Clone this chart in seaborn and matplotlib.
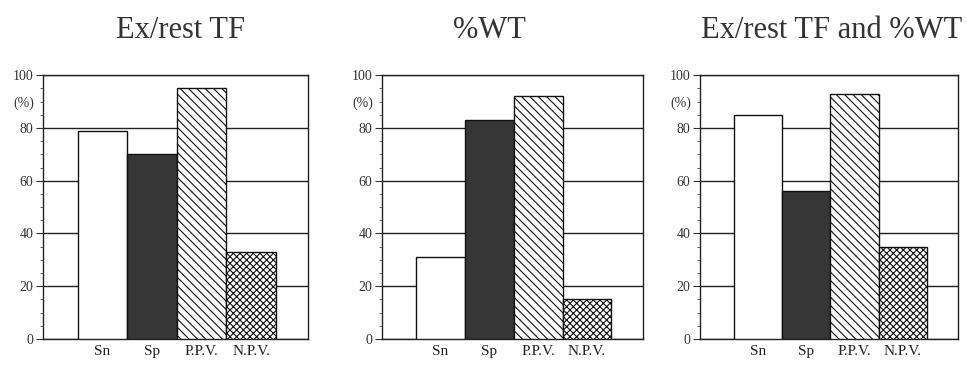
import numpy as np
import pandas as pd
import matplotlib
matplotlib.use("Agg")
import matplotlib.pyplot as plt
import seaborn as sns
from matplotlib.ticker import MultipleLocator
import matplotlib.transforms as mtransforms

# ---------------------------------------------------------------------------
# Data
# ---------------------------------------------------------------------------
categories = ["Sn", "Sp", "P.P.V.", "N.P.V."]
titles = ["Ex/rest TF", "%WT", "Ex/rest TF and %WT"]
exrest_tf = [79, 70, 95, 33]
pct_wt = [31, 83, 92, 15]
exrest_tf_and_wt = [85, 56, 93, 35]
panel_values = [exrest_tf, pct_wt, exrest_tf_and_wt]

bar_colors = {"Sn": "white", "Sp": "#363636", "P.P.V.": "white", "N.P.V.": "white"}
bar_hatches = {"Sn": "", "Sp": "", "P.P.V.": "\\\\\\\\", "N.P.V.": "xxxxx"}

sns.set_theme(style="white")
plt.rcParams["font.family"] = ["Liberation Serif", "DejaVu Serif"]
plt.rcParams["hatch.linewidth"] = 0.8
plt.rcParams["hatch.color"] = "#222222"

fig = plt.figure(figsize=(9.67, 3.70), dpi=100)
axes_pos = [
    (0.0445, 0.0838, 0.274, 0.713),
    (0.395, 0.0838, 0.270, 0.713),
    (0.724, 0.0838, 0.267, 0.713),
]
# title centres, in axes fraction, as placed in the original
title_x = [0.517, 0.41, 0.51]

for pos, title, tx, values in zip(axes_pos, titles, title_x, panel_values):
    ax = fig.add_axes(pos)
    df = pd.DataFrame({"cat": categories, "val": values})
    sns.barplot(data=df, x="cat", y="val", hue="cat", palette=bar_colors,
                order=categories, hue_order=categories, width=1.0,
                edgecolor="#111111", linewidth=1.0, legend=False, ax=ax,
                saturation=1)
    for patch, cat in zip(ax.patches, categories):
        patch.set_hatch(bar_hatches[cat])
        patch.set_zorder(3)

    ax.set_ylim(0, 100)
    ax.set_xlim(-1.2, 4.15)
    ax.yaxis.set_major_locator(MultipleLocator(20))
    ax.yaxis.set_minor_locator(MultipleLocator(5))
    ax.yaxis.grid(True, which="major", color="#222222", linewidth=1.0)
    ax.set_axisbelow(True)
    ax.tick_params(axis="y", which="major", direction="out", length=5,
                   width=0.8, color="#333333", labelsize=10, left=True, pad=2,
                   labelcolor="#333333")
    ax.tick_params(axis="y", which="minor", direction="out", length=2.5,
                   width=0.6, color="#555555", left=True)
    ax.tick_params(axis="x", length=0, labelsize=11, pad=4, labelcolor="#222222")
    for sp in ax.spines.values():
        sp.set_visible(True)
        sp.set_color("#222222")
        sp.set_linewidth(1.0)
    ax.set_xlabel("")
    ax.set_ylabel("")
    ax.set_title(title, fontsize=22, pad=27, color="#333333", x=tx)

    trans = mtransforms.blended_transform_factory(ax.transAxes, ax.transData)
    ax.text(-0.035, 89.5, "(%)", transform=trans, ha="right", va="center",
            fontsize=10, color="#333333")

fig.savefig("out.png", dpi=100)
